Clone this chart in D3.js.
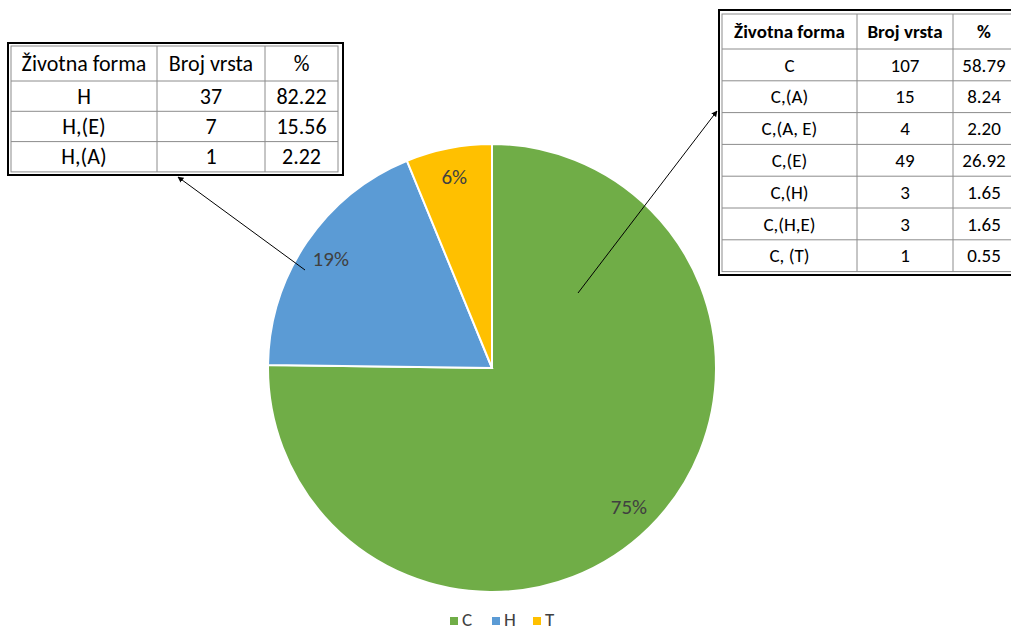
<!DOCTYPE html>
<html>
<head>
<meta charset="utf-8">
<script src="https://cdn.jsdelivr.net/npm/d3@7"></script>
<style>
  body { margin: 0; background: #fff; }
  svg { display: block; font-family: Carlito, Calibri, "Open Sans", sans-serif; }
</style>
</head>
<body>
<div id="wrapper"></div>
<script>
// pie data
const categories = ["C", "H", "T"];
const counts = [182, 45, 15];
const colors = ["#70AD47", "#5B9BD5", "#FFC000"];

// table data (left = H, right = C)
const header = ["Životna forma", "Broj vrsta", "%"];
const hForms = ["H", "H,(E)", "H,(A)"];
const hCounts = [37, 7, 1];
const hPct = ["82.22", "15.56", "2.22"];
const cForms = ["C", "C,(A)", "C,(A, E)", "C,(E)", "C,(H)", "C,(H,E)", "C, (T)"];
const cCounts = [107, 15, 4, 49, 3, 3, 1];
const cPct = ["58.79", "8.24", "2.20", "26.92", "1.65", "1.65", "0.55"];

const width = 1011, height = 630;
const cx = 492, cy = 368, radius = 224;

const svg = d3.select("#wrapper").append("svg")
    .attr("width", width)
    .attr("height", height);

svg.append("rect").attr("width", width).attr("height", height).attr("fill", "#fff");

const total = d3.sum(counts);
const pieData = d3.pie().sort(null).value(d => d)(counts);
const arc = d3.arc().innerRadius(0).outerRadius(radius);
const labelArc = d3.arc().innerRadius(195).outerRadius(195);

const g = svg.append("g").attr("transform", "translate(" + cx + "," + cy + ")");

g.selectAll("path.slice")
  .data(pieData)
  .enter()
  .append("path")
    .attr("class", "slice")
    .attr("d", arc)
    .attr("fill", (d, i) => colors[i])
    .attr("stroke", "#fff")
    .attr("stroke-width", 2);

g.selectAll("text.lbl")
  .data(pieData)
  .enter()
  .append("text")
    .attr("class", "lbl")
    .attr("transform", d => "translate(" + labelArc.centroid(d) + ")")
    .attr("text-anchor", "middle")
    .attr("dy", "0.35em")
    .attr("font-size", 21)
    .attr("fill", "#404040")
    .text(d => Math.round(d.value / total * 100) + "%");

// arrows
const defs = svg.append("defs");
defs.append("marker")
    .attr("id", "arrow")
    .attr("viewBox", "0 0 10 10")
    .attr("refX", 9).attr("refY", 5)
    .attr("markerWidth", 6).attr("markerHeight", 6)
    .attr("orient", "auto")
  .append("path")
    .attr("d", "M0,0 L10,5 L0,10 z")
    .attr("fill", "#000");

svg.append("line")
    .attr("x1", 305).attr("y1", 270).attr("x2", 178).attr("y2", 177)
    .attr("stroke", "#000").attr("stroke-width", 1)
    .attr("marker-end", "url(#arrow)");
svg.append("line")
    .attr("x1", 578).attr("y1", 293).attr("x2", 717).attr("y2", 111)
    .attr("stroke", "#000").attr("stroke-width", 1)
    .attr("marker-end", "url(#arrow)");

function drawTable(frame, colEdges, headH, rowH, rows, fontSize, boldHead) {
    const t = svg.append("g");
    t.append("rect")
        .attr("x", frame[0]).attr("y", frame[1])
        .attr("width", frame[2] - frame[0]).attr("height", frame[3] - frame[1])
        .attr("fill", "#fff").attr("stroke", "#000").attr("stroke-width", 2);

    const top = colEdges.top;
    const xs = colEdges.xs;
    const y = d3.scaleBand()
        .domain(d3.range(rows.length))
        .range([top + headH, top + headH + rowH * rows.length]);
    const bottom = top + headH + rowH * rows.length;

    // grid
    t.append("rect")
        .attr("x", xs[0]).attr("y", top)
        .attr("width", xs[xs.length - 1] - xs[0]).attr("height", bottom - top)
        .attr("fill", "none").attr("stroke", "#8c8c8c").attr("stroke-width", 1);
    t.selectAll("line.v")
      .data(xs.slice(1, -1))
      .enter().append("line")
        .attr("x1", d => d).attr("x2", d => d)
        .attr("y1", top).attr("y2", bottom)
        .attr("stroke", "#8c8c8c");
    t.selectAll("line.h")
      .data(d3.range(rows.length))
      .enter().append("line")
        .attr("x1", xs[0]).attr("x2", xs[xs.length - 1])
        .attr("y1", d => y(d)).attr("y2", d => y(d))
        .attr("stroke", "#8c8c8c");

    header.forEach((h, j) => {
        t.append("text")
            .attr("x", (xs[j] + xs[j + 1]) / 2)
            .attr("y", top + headH / 2)
            .attr("dy", "0.35em")
            .attr("text-anchor", "middle")
            .attr("font-size", fontSize)
            .attr("font-weight", boldHead ? "bold" : "normal")
            .attr("fill", "#000")
            .text(h);
    });
    rows.forEach((r, i) => {
        r.forEach((v, j) => {
            t.append("text")
                .attr("x", (xs[j] + xs[j + 1]) / 2)
                .attr("y", y(i) + rowH / 2)
                .attr("dy", "0.35em")
                .attr("text-anchor", "middle")
                .attr("font-size", fontSize)
                .attr("fill", "#000")
                .text(v);
        });
    });
}

drawTable([8, 43, 343, 175], {top: 46, xs: [11, 157, 265, 338]}, 35, 30.3,
    hForms.map((f, i) => [f, hCounts[i], hPct[i]]), 22, false);
drawTable([719, 10, 1040, 275], {top: 14, xs: [722, 857, 953, 1015]}, 35, 31.8,
    cForms.map((f, i) => [f, cCounts[i], cPct[i]]), 19, true);

// legend
const legendX = [450, 492, 533];
const lg = svg.append("g");
categories.forEach((c, i) => {
    lg.append("rect")
        .attr("x", legendX[i]).attr("y", 617)
        .attr("width", 8).attr("height", 8)
        .attr("fill", colors[i]);
    lg.append("text")
        .attr("x", legendX[i] + 12).attr("y", 619)
        .attr("dy", "0.35em")
        .attr("font-size", 19)
        .attr("fill", "#404040")
        .text(c);
});
</script>
</body>
</html>
